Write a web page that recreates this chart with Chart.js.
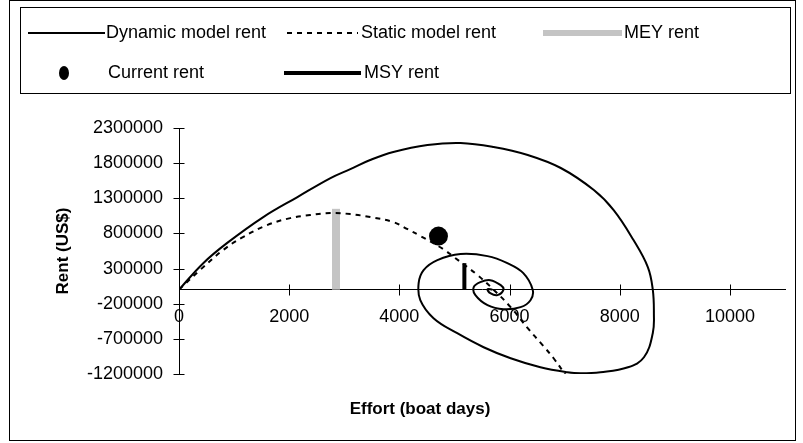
<!DOCTYPE html>
<html>
<head>
<meta charset="utf-8">
<script src="https://cdn.jsdelivr.net/npm/chart.js@4/dist/chart.umd.min.js"></script>
<style>
  html, body { margin: 0; padding: 0; background: #fff; }
  #wrap { width: 803px; height: 443px; }
</style>
</head>
<body>
<div id="wrap"><canvas id="c" width="803" height="443"></canvas></div>
<script>
// Effort (boat days) and rent (US$) along the dynamic model path
const dynEffort = [0, 440, 870, 1530, 2150, 2750, 3110, 3470, 3890, 4510, 5110, 5710, 6330, 6930, 7530, 7890, 8250, 8510, 8600, 8620, 8600, 8440, 8150, 7650, 7290, 7050, 6560, 6020, 5530, 5050, 4620, 4380, 4350, 4440, 4690, 5110, 5600, 5960, 6250, 6420, 6380, 6200, 5890, 5600, 5380, 5350, 5470, 5650, 5840, 5890, 5780, 5650, 5600, 5690];
const dynRent = [0, 377000, 662000, 1033000, 1318000, 1588000, 1716000, 1845000, 1959000, 2058000, 2087000, 2030000, 1916000, 1731000, 1417000, 1132000, 705000, 321000, 0, -335000, -620000, -962000, -1104000, -1175000, -1189000, -1175000, -1104000, -976000, -819000, -620000, -406000, -150000, 93000, 278000, 420000, 506000, 477000, 377000, 235000, 0, -150000, -249000, -278000, -221000, -78000, 36000, 107000, 135000, 64000, 0, -78000, -50000, 7000, 0];

// Static (equilibrium) model rent curve
const staticEffort = [0, 380, 800, 1160, 1600, 2020, 2380, 2750, 3110, 3470, 3890, 4150, 4380, 4800, 4980, 5420, 5710, 6020, 6330, 6600, 6800, 7020];
const staticRent = [0, 278000, 563000, 748000, 919000, 1018000, 1061000, 1090000, 1075000, 1033000, 962000, 860000, 765000, 575000, 470000, 207000, 0, -249000, -548000, -790000, -976000, -1218000];

// Reference points
const meyEffort = [2850, 2850];
const meyRent = [0, 1150000];
const msyEffort = [5180, 5180];
const msyRent = [0, 377000];
const currentEffort = [4710];
const currentRent = [762000];

// Axis tick values
const xTickValues = [0, 2000, 4000, 6000, 8000, 10000];
const yTickValues = [-1200000, -700000, -200000, 300000, 800000, 1300000, 1800000, 2300000];

const seriesLabels = ['Dynamic model rent', 'Static model rent', 'MEY rent', 'Current rent', 'MSY rent'];
const xTitle = 'Effort (boat days)';
const yTitle = 'Rent (US$)';

const FONT = '"Liberation Sans", Arial, sans-serif';
const pts = (xs, ys) => xs.map((x, i) => ({ x: x, y: ys[i] }));

// Frame, legend, axis titles and crossing tick marks
const decor = {
  id: 'decor',
  beforeDraw(chart) {
    const ctx = chart.ctx;
    ctx.save();
    ctx.fillStyle = '#fff';
    ctx.fillRect(0, 0, chart.width, chart.height);
    ctx.restore();
  },
  afterDraw(chart) {
    const ctx = chart.ctx;
    const xs = chart.scales.x, ys = chart.scales.y;
    const x0 = Math.round(xs.getPixelForValue(0)) + 0.5;
    const y0 = Math.round(ys.getPixelForValue(0)) + 0.5;
    ctx.save();

    // tick marks crossing both axes
    ctx.strokeStyle = '#000';
    ctx.lineWidth = 1;
    ctx.beginPath();
    xs.ticks.forEach(t => {
      const px = Math.round(xs.getPixelForValue(t.value)) + 0.5;
      ctx.moveTo(px, y0 - 6); ctx.lineTo(px, y0 + 5);
    });
    ys.ticks.forEach(t => {
      const py = Math.round(ys.getPixelForValue(t.value)) + 0.5;
      ctx.moveTo(x0 - 6, py); ctx.lineTo(x0 + 5, py);
    });
    ctx.stroke();

    // outer frame
    ctx.strokeStyle = '#000';
    ctx.strokeRect(9.5, 0.5, 786, 440);
    // legend box
    ctx.strokeRect(20.5, 7.5, 770, 86);

    // legend entries, looked up by series label
    const byLabel = {};
    chart.data.datasets.forEach(d => { byLabel[d.label] = d; });
    const items = [
      { label: seriesLabels[0], kind: 'line', x: 28, w: 77, y: 33, tx: 106 },
      { label: seriesLabels[1], kind: 'line', x: 287, w: 71, y: 33, tx: 361 },
      { label: seriesLabels[2], kind: 'line', x: 543, w: 79, y: 33, tx: 624, lw: 6 },
      { label: seriesLabels[3], kind: 'dot', x: 64, y: 73, tx: 108 },
      { label: seriesLabels[4], kind: 'line', x: 284, w: 77, y: 73, tx: 364 }
    ];
    ctx.font = '18px ' + FONT;
    ctx.textBaseline = 'middle';
    ctx.textAlign = 'left';
    items.forEach(it => {
      const d = byLabel[it.label];
      ctx.save();
      if (it.kind === 'line') {
        ctx.strokeStyle = d.borderColor;
        ctx.lineWidth = it.lw || d.borderWidth;
        ctx.setLineDash(d.borderDash || []);
        ctx.beginPath();
        ctx.moveTo(it.x, it.y);
        ctx.lineTo(it.x + it.w, it.y);
        ctx.stroke();
      } else {
        ctx.fillStyle = d.backgroundColor;
        ctx.beginPath();
        ctx.ellipse(it.x, it.y, 5, 7, 0, 0, Math.PI * 2);
        ctx.fill();
      }
      ctx.restore();
      ctx.fillStyle = '#000';
      ctx.fillText(d.label, it.tx, it.y);
    });

    // axis titles
    ctx.font = 'bold 17px ' + FONT;
    ctx.textAlign = 'center';
    ctx.textBaseline = 'middle';
    ctx.fillText(xTitle, 420, 409);
    ctx.save();
    ctx.translate(63, 251);
    ctx.rotate(-Math.PI / 2);
    ctx.fillText(yTitle, 0, 0);
    ctx.restore();

    ctx.restore();
  }
};

new Chart(document.getElementById('c'), {
  type: 'scatter',
  data: {
    datasets: [
      {
        label: seriesLabels[0],
        data: pts(dynEffort, dynRent),
        showLine: true, borderColor: '#000', backgroundColor: '#000',
        borderWidth: 2, pointRadius: 0, tension: 0.4
      },
      {
        label: seriesLabels[1],
        data: pts(staticEffort, staticRent),
        showLine: true, borderColor: '#000', backgroundColor: '#000',
        borderWidth: 2, borderDash: [5, 5], pointRadius: 0, tension: 0.4
      },
      {
        label: seriesLabels[3],
        data: pts(currentEffort, currentRent),
        showLine: false, borderColor: '#000', backgroundColor: '#000',
        pointRadius: 9.5, borderWidth: 0
      },
      {
        label: seriesLabels[4],
        data: pts(msyEffort, msyRent),
        showLine: true, borderColor: '#000', backgroundColor: '#000',
        borderWidth: 4, pointRadius: 0, tension: 0
      },
      {
        label: seriesLabels[2],
        data: pts(meyEffort, meyRent),
        showLine: true, borderColor: '#c4c4c4', backgroundColor: '#c4c4c4',
        borderWidth: 8, pointRadius: 0, tension: 0
      }
    ]
  },
  options: {
    responsive: false,
    animation: false,
    devicePixelRatio: 1,
    layout: { padding: { left: 9, right: 18, top: 128, bottom: 69 } },
    plugins: { legend: { display: false }, tooltip: { enabled: false } },
    scales: {
      x: {
        type: 'linear', min: 0, max: 11000, position: { y: 0 },
        afterBuildTicks: s => { s.ticks = xTickValues.map(v => ({ value: v })); },
        grid: { display: false, drawTicks: false },
        border: { display: true, color: '#000', width: 1 },
        ticks: { font: { family: FONT, size: 18 }, color: '#000', padding: 17, maxRotation: 0, autoSkip: false, callback: v => String(v) }
      },
      y: {
        type: 'linear', min: -1200000, max: 2300000, position: 'left',
        afterBuildTicks: s => { s.ticks = yTickValues.map(v => ({ value: v })); },
        afterFit: s => { s.width = 170; },
        grid: { display: false, drawTicks: false },
        border: { display: true, color: '#000', width: 1 },
        ticks: { font: { family: FONT, size: 18 }, color: '#000', padding: 16, autoSkip: false, callback: v => String(v) }
      }
    }
  },
  plugins: [decor]
});
</script>
</body>
</html>
